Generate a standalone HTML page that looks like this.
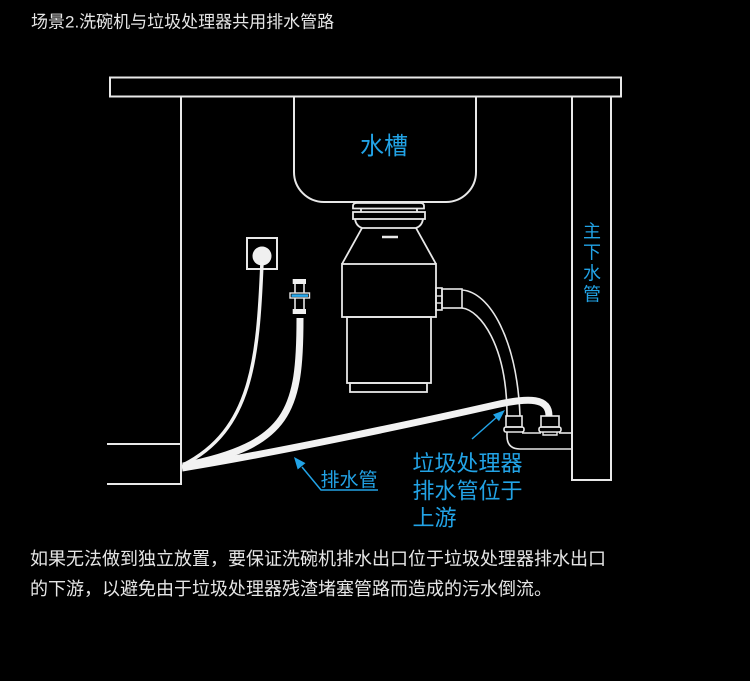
<!DOCTYPE html>
<html>
<head>
<meta charset="utf-8">
<style>
  html, body { margin:0; padding:0; background:#000; }
  body { width:750px; height:681px; overflow:hidden; }
  svg { display:block; }
  .t { font-family: "Liberation Sans", "Noto Sans CJK SC", sans-serif; }
</style>
</head>
<body>
<svg width="750" height="681" viewBox="0 0 750 681" xmlns="http://www.w3.org/2000/svg">
  <rect x="0" y="0" width="750" height="681" fill="#000"/>

  <!-- Title -->
  <text class="t" x="31" y="27.5" font-size="17" fill="#e6e6e6">场景2.洗碗机与垃圾处理器共用排水管路</text>

  <g fill="none" stroke="#e8e8e8" stroke-width="2">
    <!-- countertop -->
    <rect x="110" y="77.5" width="511" height="19"/>
    <!-- left cabinet wall -->
    <line x1="181" y1="97" x2="181" y2="484"/>
    <!-- left counter (dishwasher) lines -->
    <line x1="107" y1="444" x2="181" y2="444"/>
    <line x1="107" y1="484" x2="182" y2="484"/>
    <!-- main drain pipe right -->
    <path d="M572,97 V480 H611 V97"/>
    <!-- sink -->
    <path d="M294,97 V172 A30,30 0 0 0 324,202 H446 A30,30 0 0 0 476,172 V97"/>

    <!-- disposer -->
    <path d="M353,208.5 V206 Q353,203 357,203 H420 Q424,203 424,206 V208.5 Z" stroke-width="1.8"/>
    <line x1="361" y1="208.5" x2="361" y2="212" stroke-width="1.8"/>
    <line x1="417" y1="208.5" x2="417" y2="212" stroke-width="1.8"/>
    <rect x="353" y="212" width="72" height="7" stroke-width="1.8"/>
    <path d="M355,219 Q356,226 362,228 H416 Q422,226 423,219" stroke-width="1.8"/>
    <path d="M362,228 L342,264 M416,228 L436,264" stroke-width="1.8"/>
    <line x1="382" y1="237" x2="398" y2="237" stroke-width="2.5"/>
    <rect x="342" y="264" width="94" height="53" stroke-width="1.8"/>
    <rect x="347" y="317" width="84" height="66" stroke-width="1.8"/>
    <rect x="350" y="383" width="77" height="9" stroke-width="1.8"/>
    <!-- side outlet -->
    <rect x="436" y="288" width="6" height="22" stroke-width="1.6"/>
    <line x1="436" y1="296" x2="442" y2="296" stroke-width="1.4"/>
    <line x1="436" y1="303" x2="442" y2="303" stroke-width="1.4"/>
    <rect x="442" y="289" width="20" height="19" stroke-width="1.6"/>
    <!-- disposer drain hose (outline) -->
    <path d="M462,290 C490,292 517,340 520,416" stroke-width="1.6"/>
    <path d="M462,308 C480,310 507,345 507,416" stroke-width="1.6"/>

    <!-- fittings -->
    <rect x="506" y="416" width="16" height="11" stroke-width="1.6"/>
    <rect x="504" y="427" width="20" height="5" rx="2" stroke-width="1.6"/>
    <rect x="541" y="416" width="18" height="11" stroke-width="1.6"/>
    <rect x="539" y="427" width="22" height="5" rx="2" stroke-width="1.6"/>
    <path d="M543,432 V435 H557 V432" stroke-width="1.4"/>
    <!-- tee pipe -->
    <path d="M507,432 V436 Q507,449 520,449 H572" stroke-width="1.6"/>
    <line x1="522" y1="433" x2="541" y2="433" stroke-width="1.6"/>
    <line x1="559" y1="433" x2="572" y2="433" stroke-width="1.6"/>

    <!-- outlet box -->
    <rect x="247" y="238" width="30" height="31"/>
  </g>

  <!-- outlet plug -->
  <circle cx="262" cy="256" r="9.5" fill="#f0f0f0"/>

  <!-- valve -->
  <rect x="292.7" y="279" width="13.3" height="5" fill="#f0f0f0"/>
  <line x1="295" y1="284" x2="295" y2="309" stroke="#e8e8e8" stroke-width="1.6"/>
  <line x1="304" y1="284" x2="304" y2="309" stroke="#e8e8e8" stroke-width="1.6"/>
  <rect x="290" y="293" width="19.5" height="5" fill="#000" stroke="#e8e8e8" stroke-width="1.4"/>
  <rect x="291.5" y="294.3" width="16.5" height="2.6" fill="#2aa8ec"/>
  <rect x="292.7" y="309" width="13.3" height="5" fill="#f0f0f0"/>

  <!-- cords / hoses (white filled) -->
  <g fill="none" stroke="#f2f2f2" stroke-linecap="butt">
    <path d="M262,262 C258,360 252,430 183,465" stroke-width="3.5"/>
    <path d="M300,318 C300,410 290,445 183,466" stroke-width="7"/>
    <path d="M182,468 C280,452 420,422 495,405 C530,397 549,398 549,416" stroke-width="7"/>
  </g>

  <!-- blue arrows -->
  <g stroke="#22a3e6" stroke-width="1.5" fill="none">
    <path d="M302,467 L321,490 H378"/>
    <path d="M472,439 L498,416"/>
  </g>
  <polygon points="294,457 305.5,463.1 297.7,469.5" fill="#22a3e6"/>
  <polygon points="505,410 499,421.3 493,414.5" fill="#22a3e6"/>

  <!-- blue labels -->
  <text class="t" x="384" y="154" font-size="24" fill="#22a3e6" text-anchor="middle">水槽</text>
  <g class="t" font-size="18" fill="#22a3e6" text-anchor="middle">
    <text x="592" y="237.5">主</text>
    <text x="592" y="258.5">下</text>
    <text x="592" y="279.5">水</text>
    <text x="592" y="300.5">管</text>
  </g>
  <text class="t" x="320.5" y="486" font-size="19" fill="#22a3e6">排水管</text>
  <g class="t" font-size="22" fill="#22a3e6">
    <text x="412.5" y="471">垃圾处理器</text>
    <text x="412.5" y="498.4">排水管位于</text>
    <text x="412.5" y="525.4">上游</text>
  </g>

  <!-- bottom paragraph -->
  <g class="t" font-size="18" fill="#e6e6e6">
    <text x="30" y="565">如果无法做到独立放置，要保证洗碗机排水出口位于垃圾处理器排水出口</text>
    <text x="30" y="595">的下游，以避免由于垃圾处理器残渣堵塞管路而造成的污水倒流。</text>
  </g>
</svg>
</body>
</html>
